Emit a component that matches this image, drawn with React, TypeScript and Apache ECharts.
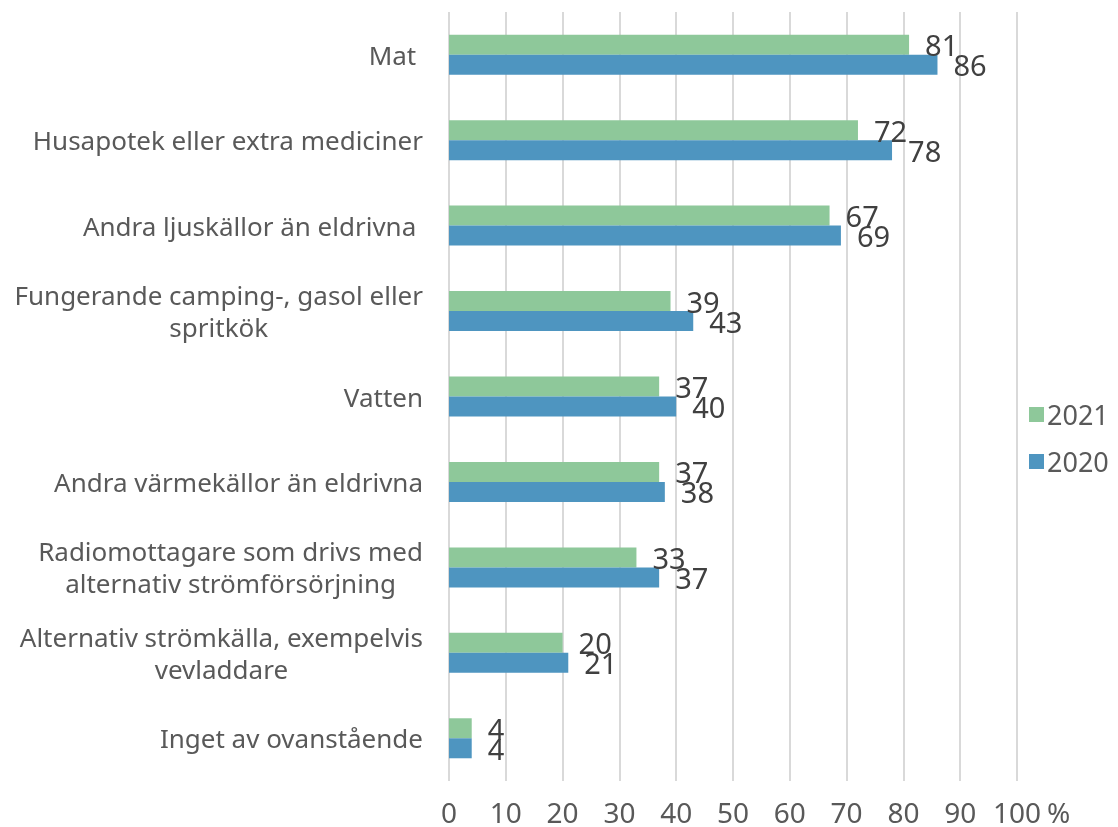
import React, { useEffect, useRef } from "react";
import * as echarts from "echarts";

const categories = [
  "Mat\u00a0",
  "Husapotek eller extra mediciner",
  "Andra ljuskällor än eldrivna\u00a0",
  "Fungerande camping-, gasol eller\nspritkök",
  "Vatten",
  "Andra värmekällor än eldrivna",
  "Radiomottagare som drivs med\nalternativ strömförsörjning",
  "Alternativ strömkälla, exempelvis\nvevladdare",
  "Inget av ovanstående",
];
const values2021 = [81, 72, 67, 39, 37, 37, 33, 20, 4];
const values2020 = [86, 78, 69, 43, 40, 38, 37, 21, 4];
const seriesNames = ["2021", "2020"];
const xTicks = { min: 0, max: 100, interval: 10 };

const FONT = "Noto Sans";
const GREEN = "#8EC89A";
const BLUE = "#4E95C0";
const GRAY = "#595959";

export default function App() {
  const ref = useRef<HTMLDivElement>(null);
  useEffect(() => {
    if (!ref.current) return;
    const chart = echarts.init(ref.current, undefined, { renderer: "svg" });
    const label = {
      show: true,
      position: "right",
      distance: 16,
      fontSize: 29,
      fontFamily: FONT,
      color: "#404040",
    };
    chart.setOption({
      animation: false,
      textStyle: { fontFamily: FONT },
      grid: { left: 449, right: 101, top: 12, bottom: 46, containLabel: false },
      legend: {
        orient: "vertical",
        left: 1024,
        top: 396,
        itemWidth: 15,
        itemHeight: 15,
        itemGap: 20,
        icon: "rect",
        textStyle: { fontSize: 27, color: GRAY, fontFamily: FONT, padding: [0, 0, 0, -2] },
        data: seriesNames,
      },
      xAxis: {
        type: "value",
        min: xTicks.min,
        max: xTicks.max,
        interval: xTicks.interval,
        name: "%",
        nameLocation: "end",
        nameGap: 30,
        nameTextStyle: {
          fontSize: 28,
          color: GRAY,
          fontFamily: FONT,
          lineHeight: 26,
          verticalAlign: "top",
          padding: [18, 0, 0, 0],
        },
        axisLine: { show: false },
        axisTick: { show: false },
        axisLabel: { fontSize: 28, lineHeight: 26, color: GRAY, fontFamily: FONT, margin: 18 },
        splitLine: { show: true, lineStyle: { color: "#D9D9D9", width: 2 } },
      },
      yAxis: {
        type: "category",
        inverse: true,
        data: categories,
        axisLine: { show: false },
        axisTick: { show: false },
        axisLabel: {
          margin: 26,
          align: "right",
          fontSize: 26,
          color: GRAY,
          fontFamily: FONT,
          lineHeight: 32,
          formatter: (v: string) =>
            v
              .split("\n")
              .map((l) => `{c|${l}}`)
              .join("\n"),
          rich: {
            c: { align: "center", fontSize: 26, color: GRAY, fontFamily: FONT, lineHeight: 32 },
          },
        },
      },
      series: [
        {
          name: seriesNames[0],
          type: "bar",
          data: values2021,
          barWidth: 20,
          barGap: "0%",
          itemStyle: { color: GREEN },
          label,
        },
        {
          name: seriesNames[1],
          type: "bar",
          data: values2020,
          barWidth: 20,
          barGap: "0%",
          itemStyle: { color: BLUE },
          label,
        },
      ],
    });
    return () => chart.dispose();
  }, []);
  return (
    <div
      ref={ref}
      style={{ position: "fixed", left: 0, top: 0, width: 1118, height: 827 }}
    />
  );
}
